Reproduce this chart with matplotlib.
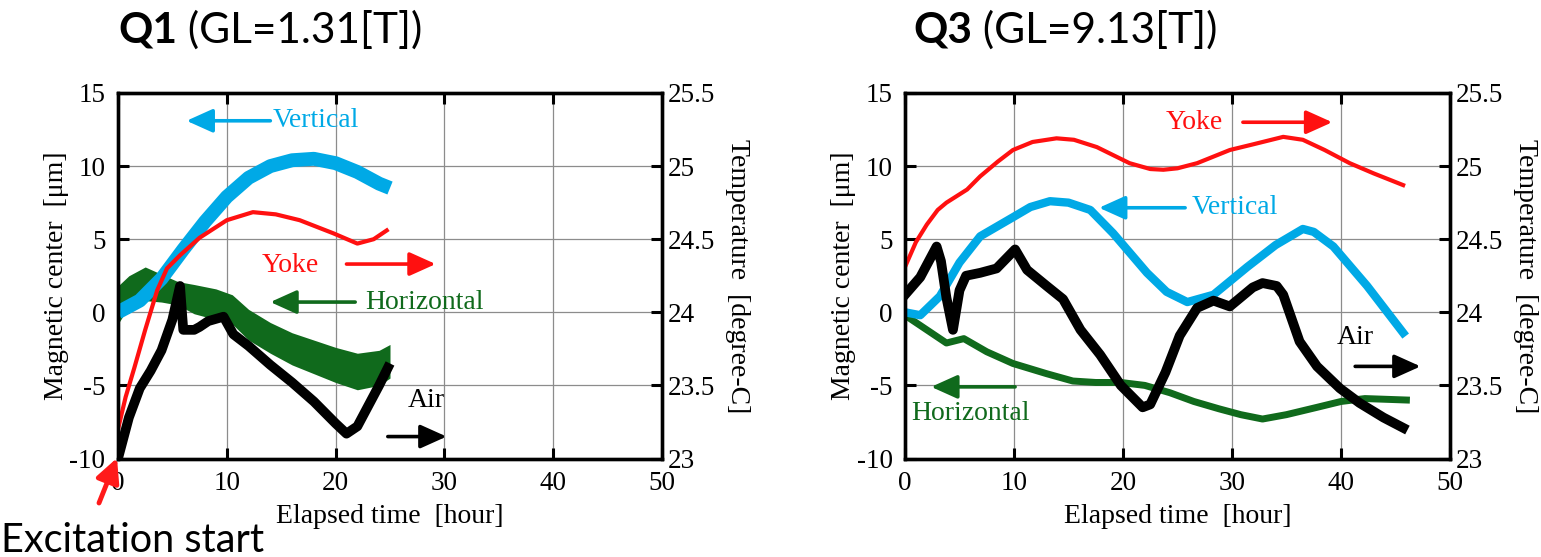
import matplotlib
matplotlib.use("Agg")
import matplotlib.pyplot as plt

plt.rcParams['axes.unicode_minus'] = False
plt.rcParams['font.family'] = 'serif'
plt.rcParams['font.serif'] = ['Liberation Serif', 'DejaVu Serif']
SANS = 'Lato'

# ---------------- data ----------------
x_ticks = [0, 10, 20, 30, 40, 50]
y_ticks = [-10, -5, 0, 5, 10, 15]
y_tick_labels = ['-10', '-5', '0', '5', '10', '15']
t_ticks = [23, 23.5, 24, 24.5, 25, 25.5]
t_tick_labels = ['23', '23.5', '24', '24.5', '25', '25.5']

# Q1 panel
q1_vert_t = [0, 2, 4, 6, 8, 10, 12, 14, 16, 18, 20, 22, 24, 25]
q1_vert_y = [0.0, 0.8, 2.3, 4.3, 6.2, 7.9, 9.2, 10.0, 10.4, 10.5, 10.2, 9.6, 8.8, 8.5]

q1_horiz_t = [0, 1, 2.5, 4, 5.5, 7, 9, 10.5, 12, 14, 16, 18, 20, 22, 24, 25]
q1_horiz_hi = [1.8, 2.5, 3.1, 2.6, 2.1, 1.9, 1.6, 1.2, 0.2, -0.7, -1.4, -1.9, -2.4, -2.8, -2.6, -2.2]
q1_horiz_lo = [-0.8, 0.4, 0.8, 0.7, 0.5, -0.1, -0.5, -0.8, -1.9, -2.8, -3.6, -4.2, -4.8, -5.3, -5.0, -4.5]

q1_yoke_t = [0, 0.7, 1.5, 2.5, 3.6, 4.5, 5.7, 7.5, 10, 12.4, 14.5, 16.7, 19.8, 22, 23.5, 24.7]
q1_yoke_temp = [23.20, 23.42, 23.62, 23.88, 24.15, 24.30, 24.39, 24.51, 24.63, 24.685,
                24.67, 24.63, 24.54, 24.47, 24.50, 24.56]

q1_air_t = [0, 1, 2, 3, 4, 5, 5.7, 6.0, 7, 7.5, 8.3, 9.7, 10.6, 12, 14, 16, 18, 20, 21, 22, 23, 24, 25]
q1_air_temp = [23.00, 23.28, 23.48, 23.60, 23.74, 23.95, 24.18, 23.88, 23.88, 23.90, 23.94,
               23.97, 23.85, 23.77, 23.64, 23.52, 23.39, 23.24, 23.17, 23.22, 23.36, 23.50, 23.65]

# Q3 panel
q3_vert_t = [0, 1.4, 3.2, 5, 6.9, 9.9, 11.5, 13.3, 15, 17, 19.1, 22.2, 24, 25.9, 28.3, 31.4,
             34, 36.5, 37.5, 39.3, 42.4, 45.7]
q3_vert_y = [0.0, -0.2, 1.1, 3.4, 5.2, 6.5, 7.2, 7.6, 7.5, 7.0, 5.4, 2.7, 1.4, 0.7, 1.2, 3.1,
             4.6, 5.7, 5.5, 4.5, 1.8, -1.4]

q3_horiz_t = [0, 2, 3.8, 5.4, 7.5, 9.9, 13, 15.4, 17.5, 19.8, 22, 24.3, 26.5, 28.8, 30.8,
              32.8, 35, 37.8, 40, 42.2, 46]
q3_horiz_y = [-0.2, -1.2, -2.1, -1.8, -2.7, -3.5, -4.2, -4.7, -4.8, -4.8, -5.0, -5.5, -6.1,
              -6.6, -7.0, -7.3, -7.0, -6.5, -6.1, -5.9, -6.0]

q3_yoke_t = [0, 1, 2, 3, 3.8, 5.7, 6.9, 8.5, 9.9, 11.7, 13.9, 15.5, 17.6, 20.6, 22.5, 23.7,
             25, 26.8, 29.8, 32, 34.7, 36.5, 38.5, 40.8, 43, 45.7]
q3_yoke_temp = [24.31, 24.48, 24.60, 24.70, 24.75, 24.84, 24.93, 25.03, 25.11, 25.165, 25.19,
                25.18, 25.13, 25.02, 24.98, 24.975, 24.985, 25.02, 25.11, 25.15, 25.20, 25.18,
                25.11, 25.02, 24.95, 24.87]

q3_air_t = [0, 1.4, 2.9, 3.3, 3.8, 4.4, 5.0, 5.6, 6.9, 8.4, 10.1, 11.2, 13, 14.5, 16.1, 17.9,
            19.8, 21.8, 22.5, 23.9, 25.2, 26.8, 28.3, 29.8, 31.9, 32.8, 34.1, 34.7, 36.2,
            37.8, 39.9, 41.7, 43.9, 45.7]
q3_air_temp = [24.12, 24.24, 24.45, 24.35, 24.10, 23.88, 24.15, 24.25, 24.27, 24.30, 24.43,
               24.29, 24.18, 24.09, 23.88, 23.71, 23.50, 23.35, 23.37, 23.59, 23.84, 24.03,
               24.08, 24.04, 24.17, 24.20, 24.18, 24.12, 23.80, 23.63, 23.48, 23.38, 23.28,
               23.21]

# ---------------- styling ----------------
C_VERT = '#00a9e6'
C_YOKE = '#ff1010'
C_HORIZ = '#106a1c'
C_AIR = '#000000'
W, H = 1541, 557
DPI = 100
fig = plt.figure(figsize=(W / DPI, H / DPI), dpi=DPI)

TICK_FS = 19.5
LABEL_FS = 20


def make_axes(left_px, right_px):
    top_px, bot_px = 93, 458.5
    ax = fig.add_axes([left_px / W, 1 - bot_px / H, (right_px - left_px) / W, (bot_px - top_px) / H])
    ax.set_xlim(0, 50)
    ax.set_ylim(-10, 15)
    ax.set_xticks(x_ticks)
    ax.set_yticks(y_ticks, labels=y_tick_labels)
    ax.grid(True, color='#8c8c8c', lw=0.9)
    ax.set_axisbelow(True)
    ax.tick_params(direction='in', length=8, width=2.2, top=True, labelsize=TICK_FS, pad=9)
    for s in ax.spines.values():
        s.set_linewidth(2.4)
    ax.set_xlabel('Elapsed time  [hour]', fontsize=LABEL_FS, labelpad=6)
    ax.set_ylabel('Magnetic center  [\u03bcm]', fontsize=LABEL_FS, labelpad=0)
    ax2 = ax.twinx()
    ax2.set_ylim(23, 25.5)
    ax2.set_yticks(t_ticks, labels=t_tick_labels)
    ax2.tick_params(direction='in', length=8, width=2.2, labelsize=TICK_FS, pad=4)
    for s in ax2.spines.values():
        s.set_linewidth(2.4)
    ax2.set_ylabel('Temperature  [degree-C]', fontsize=LABEL_FS,
                   rotation=270, labelpad=25)
    return ax, ax2


def arrow(ax2, ax, tail, head, color):
    ax2.annotate('', xy=head, xytext=tail, xycoords=ax.transData, textcoords=ax.transData,
                 arrowprops=dict(arrowstyle='-|>,head_length=0.8,head_width=0.36',
                                 mutation_scale=20, lw=2.6, color=color,
                                 shrinkA=0, shrinkB=0))


def label(ax2, ax, xy, text, color):
    ax2.text(xy[0], xy[1], text, transform=ax.transData, color=color, fontsize=LABEL_FS,
             ha='left', va='center')


# ---------- Q1 ----------
ax, ax2 = make_axes(118, 662)
ax.fill_between(q1_horiz_t, q1_horiz_lo, q1_horiz_hi, color=C_HORIZ, lw=0)
ax.plot(q1_vert_t, q1_vert_y, color=C_VERT, lw=10, solid_capstyle='butt')
ax2.plot(q1_air_t, q1_air_temp, color=C_AIR, lw=7, solid_capstyle='butt')
ax2.plot(q1_yoke_t, q1_yoke_temp, color=C_YOKE, lw=3)

label(ax2, ax, (14.2, 13.1), 'Vertical', C_VERT)
arrow(ax2, ax, (14.0, 13.1), (6.3, 13.1), C_VERT)
label(ax2, ax, (13.2, 3.2), 'Yoke', C_YOKE)
arrow(ax2, ax, (21.0, 3.3), (29.2, 3.3), C_YOKE)
label(ax2, ax, (22.7, 0.7), 'Horizontal', C_HORIZ)
arrow(ax2, ax, (21.8, 0.7), (14.0, 0.7), C_HORIZ)
label(ax2, ax, (26.6, -6.0), 'Air', C_AIR)
arrow(ax2, ax, (24.8, -8.5), (30.2, -8.5), C_AIR)

# ---------- Q3 ----------
bx, bx2 = make_axes(905, 1450)
bx.plot(q3_horiz_t, q3_horiz_y, color=C_HORIZ, lw=5)
bx.plot(q3_vert_t, q3_vert_y, color=C_VERT, lw=6)
bx2.plot(q3_air_t, q3_air_temp, color=C_AIR, lw=7)
bx2.plot(q3_yoke_t, q3_yoke_temp, color=C_YOKE, lw=3)

label(bx2, bx, (23.9, 13.0), 'Yoke', C_YOKE)
arrow(bx2, bx, (31.0, 13.0), (39.2, 13.0), C_YOKE)
label(bx2, bx, (26.3, 7.15), 'Vertical', C_VERT)
arrow(bx2, bx, (25.7, 7.15), (17.8, 7.15), C_VERT)
label(bx2, bx, (0.6, -6.9), 'Horizontal', C_HORIZ)
arrow(bx2, bx, (10.1, -5.1), (2.4, -5.1), C_HORIZ)
label(bx2, bx, (39.6, -1.7), 'Air', C_AIR)
arrow(bx2, bx, (41.3, -3.7), (47.3, -3.7), C_AIR)

# ---------- titles ----------
TITLE_FS = 30.5
renderer = fig.canvas.get_renderer()
for x0, bold, rest in [(118, 'Q1', ' (GL=1.31[T])'), (913, 'Q3', ' (GL=9.13[T])')]:
    t1 = fig.text(x0 / W, 1 - 43 / H, bold, fontsize=TITLE_FS, fontweight='bold',
                  family=SANS, ha='left', va='baseline')
    bb = t1.get_window_extent(renderer)
    fig.text(bb.x1 / W, 1 - 43 / H, rest, fontsize=TITLE_FS, family=SANS,
             ha='left', va='baseline')

# ---------- excitation start ----------
fig.text(1 / W, 5 / H, 'Excitation start', fontsize=28.5, family=SANS, ha='left', va='baseline')
ax.annotate('', xy=(117, H - 458), xytext=(99, H - 503), xycoords='figure pixels',
            textcoords='figure pixels', annotation_clip=False,
            arrowprops=dict(arrowstyle='-|>,head_length=0.8,head_width=0.4',
                            mutation_scale=18, lw=3.5, color='#ff1a1a',
                            shrinkA=0, shrinkB=0))

fig.savefig('out.png', dpi=DPI)
